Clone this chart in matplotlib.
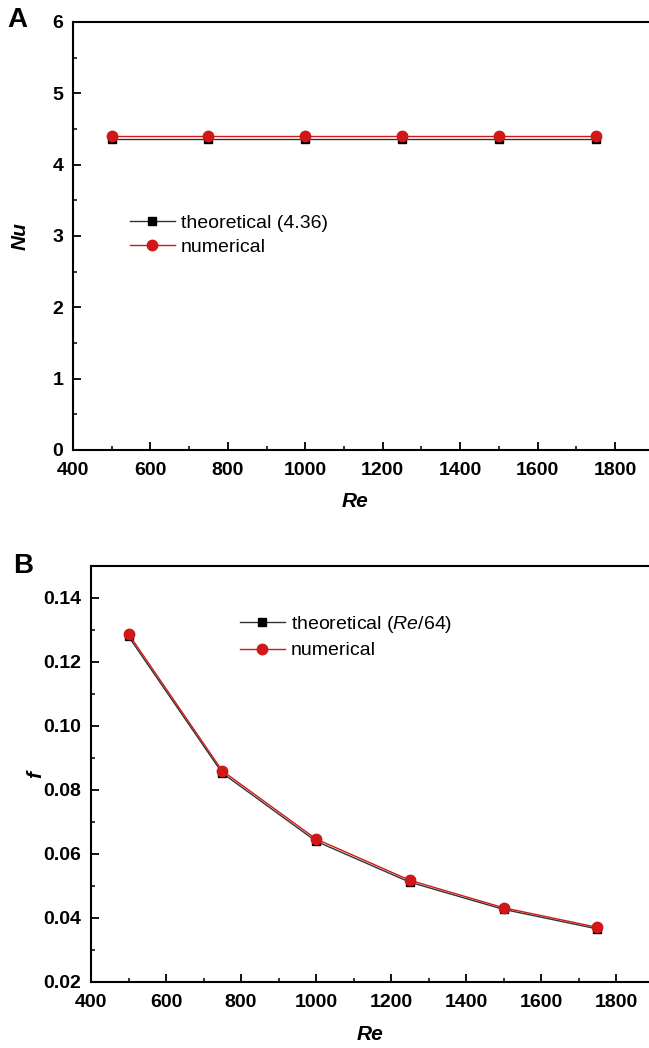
import numpy as np
import matplotlib.pyplot as plt
from matplotlib.ticker import MultipleLocator

plt.rcParams['font.family'] = ['Liberation Sans', 'DejaVu Sans']
plt.rcParams['mathtext.fontset'] = 'custom'
plt.rcParams['mathtext.it'] = 'Liberation Sans:italic'
plt.rcParams['mathtext.rm'] = 'Liberation Sans'

# Reynolds numbers of the runs
re = [500, 750, 1000, 1250, 1500, 1750]

# Nusselt number
nu_theory = [4.36, 4.36, 4.36, 4.36, 4.36, 4.36]
nu_num = [4.40, 4.40, 4.40, 4.40, 4.40, 4.40]

# friction factor
f_theory = [0.1280, 0.0853, 0.0640, 0.0512, 0.0427, 0.0366]
f_num = [0.1288, 0.0860, 0.0647, 0.0518, 0.0432, 0.0371]

red = '#d01818'
W, H = 649.0, 1048.0

fig = plt.figure(figsize=(6.49, 10.48), dpi=100)
# axes boxes in pixels: left, top, bottom (right spine runs off the page)
axA = fig.add_axes([73 / W, 1 - 450 / H, 1 - 73 / W, (450 - 22) / H])
axB = fig.add_axes([91 / W, 1 - 982 / H, 1 - 91 / W, (982 - 566) / H])


def style(ax):
    ax.spines['right'].set_visible(False)
    for s in ('left', 'top', 'bottom'):
        ax.spines[s].set_linewidth(1.5)
    ax.tick_params(which='both', direction='in', top=False, right=False)
    ax.tick_params(which='major', length=6, width=1.3, labelsize=14)
    ax.tick_params(which='minor', length=3, width=1.1)
    ax.tick_params(axis='x', pad=8.5)
    ax.tick_params(axis='y', pad=7)
    for lab in ax.get_xticklabels() + ax.get_yticklabels():
        lab.set_fontweight('bold')


def add_legend(ax, x, y):
    ax.legend(loc='upper left', bbox_to_anchor=(x / W, 1 - y / H),
              bbox_transform=fig.transFigure, frameon=False, borderpad=0,
              borderaxespad=0, fontsize=14, handlelength=2.3,
              handletextpad=0.3, labelspacing=0.35)


# A: Nusselt number
axA.plot(re, nu_theory, color='#333333', lw=1, marker='s', ms=6,
         mfc='black', mec='black', label='theoretical (4.36)')
axA.plot(re, nu_num, color=red, lw=1, marker='o', ms=7.5,
         mfc=red, mec=red, label='numerical')
axA.set_xlim(400, 1888)
axA.set_ylim(0, 6)
axA.xaxis.set_major_locator(MultipleLocator(200))
axA.xaxis.set_minor_locator(MultipleLocator(100))
axA.yaxis.set_major_locator(MultipleLocator(1))
axA.yaxis.set_minor_locator(MultipleLocator(0.5))
style(axA)
axA.set_xlabel('Re', fontsize=15, fontweight='bold', style='italic')
axA.set_ylabel('Nu', fontsize=15, fontweight='bold', style='italic')
axA.xaxis.set_label_coords(0.49, -0.098)
axA.yaxis.set_label_coords(-0.075, 0.5)
add_legend(axA, 130, 214)
fig.text(0.012, 0.993, 'A', fontsize=20, fontweight='bold', va='top')

# B: friction factor
axB.plot(re, f_theory, color='#333333', lw=1, marker='s', ms=6,
         mfc='black', mec='black', label='theoretical (' + r'$\mathit{Re/64}$' + ')')
axB.plot(re, f_num, color=red, lw=1, marker='o', ms=7.5,
         mfc=red, mec=red, label='numerical')
axB.set_xlim(400, 1888)
axB.set_ylim(0.02, 0.15)
axB.xaxis.set_major_locator(MultipleLocator(200))
axB.xaxis.set_minor_locator(MultipleLocator(100))
axB.yaxis.set_major_locator(MultipleLocator(0.02))
axB.yaxis.set_minor_locator(MultipleLocator(0.01))
axB.yaxis.set_major_formatter(plt.FormatStrFormatter('%.2f'))
style(axB)
axB.set_xlabel('Re', fontsize=15, fontweight='bold', style='italic')
axB.set_ylabel('f', fontsize=15, fontweight='bold', style='italic')
axB.xaxis.set_label_coords(0.5, -0.104)
axB.yaxis.set_label_coords(-0.082, 0.5)
add_legend(axB, 240, 614)
fig.text(0.02, 1 - 553 / H, 'B', fontsize=20, fontweight='bold', va='top')

fig.savefig('out.png', dpi=100)
